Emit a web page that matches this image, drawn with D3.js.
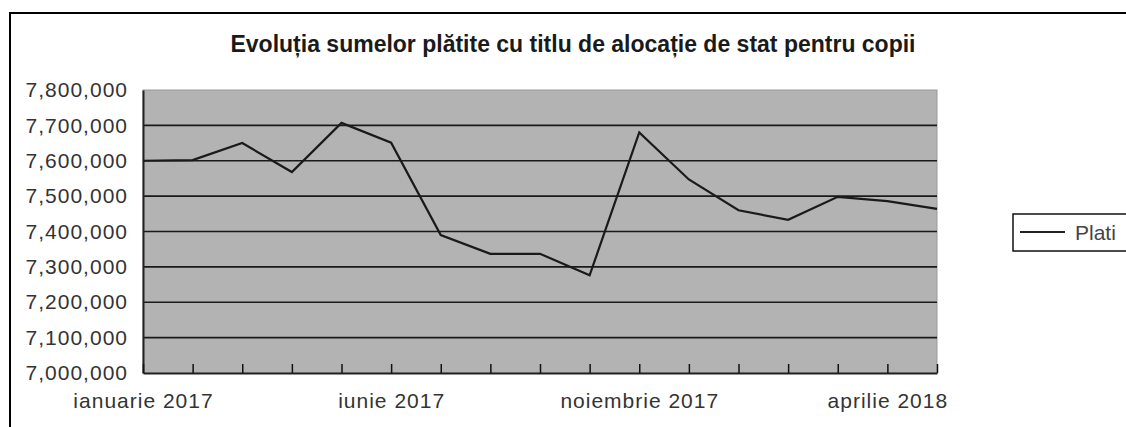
<!DOCTYPE html>
<html>
<head>
<meta charset="utf-8">
<script src="https://cdn.jsdelivr.net/npm/d3@7"></script>
<style>
  body { margin: 0; background: #fff; }
  svg { display: block; }
  text { font-family: "Liberation Sans", Arial, sans-serif; }
</style>
</head>
<body>
<div id="chart"></div>
<script>
var svgWidth = 1126;
var svgHeight = 427;

// data
var months = [
    "ianuarie 2017", "februarie 2017", "martie 2017", "aprilie 2017", "mai 2017",
    "iunie 2017", "iulie 2017", "august 2017", "septembrie 2017", "octombrie 2017",
    "noiembrie 2017", "decembrie 2017", "ianuarie 2018", "februarie 2018",
    "martie 2018", "aprilie 2018", "mai 2018"
];
var plati = [
    7600000, 7602000, 7650000, 7568000, 7707000,
    7651000, 7390000, 7337000, 7337000, 7276000,
    7680000, 7547000, 7460000, 7433000,
    7498000, 7486000, 7464000
];
var yTicks = [7000000, 7100000, 7200000, 7300000, 7400000, 7500000, 7600000, 7700000, 7800000];
var labelEvery = 5;
var title = "Evoluția sumelor plătite cu titlu de alocație de stat pentru copii";
var seriesName = "Plati";

var plot = { left: 143, right: 937, top: 90, bottom: 373 };

var svg = d3.select("#chart")
    .append("svg")
    .attr("width", svgWidth)
    .attr("height", svgHeight);

// outer frame (runs off the right and bottom edge)
svg.append("rect")
    .attr("x", 10)
    .attr("y", 13)
    .attr("width", svgWidth + 20)
    .attr("height", svgHeight + 20)
    .attr("fill", "#fff")
    .attr("stroke", "#000")
    .attr("stroke-width", 2);

svg.append("text")
    .attr("x", 573)
    .attr("y", 52)
    .attr("text-anchor", "middle")
    .attr("font-size", 23)
    .attr("font-weight", "bold")
    .attr("fill", "#1a1a1a")
    .text(title);

var x = d3.scalePoint()
    .domain(months)
    .range([plot.left, plot.right]);

var y = d3.scaleLinear()
    .domain([7000000, 7800000])
    .range([plot.bottom, plot.top]);

// plot background
svg.append("rect")
    .attr("x", plot.left)
    .attr("y", plot.top)
    .attr("width", plot.right - plot.left)
    .attr("height", plot.bottom - plot.top)
    .attr("fill", "#b3b3b3")
    .attr("stroke", "#999")
    .attr("stroke-width", 1);

// horizontal gridlines
svg.append("g")
    .selectAll("line")
    .data(yTicks.slice(1, -1))
    .enter()
    .append("line")
    .attr("x1", plot.left)
    .attr("x2", plot.right)
    .attr("y1", d => y(d))
    .attr("y2", d => y(d))
    .attr("stroke", "#1a1a1a")
    .attr("stroke-width", 1.6);

// y axis
var leftAxis = d3.axisLeft(y)
    .tickValues(yTicks)
    .tickFormat(d3.format(","))
    .tickSize(0)
    .tickPadding(15);

var yAxis = svg.append("g")
    .attr("transform", `translate(${plot.left}, 0)`)
    .call(leftAxis);
yAxis.select(".domain").attr("stroke", "#222").attr("stroke-width", 2);
yAxis.selectAll("text")
    .attr("font-size", 21)
    .attr("letter-spacing", 1)
    .attr("fill", "#333")
    .attr("font-family", "Liberation Sans, Arial, sans-serif");

// x axis, ticks point up into the plot
var bottomAxis = d3.axisBottom(x)
    .tickSizeInner(-9)
    .tickSizeOuter(0)
    .tickPadding(20)
    .tickFormat((d, i) => i % labelEvery === 0 ? d : "");

var xAxis = svg.append("g")
    .attr("transform", `translate(0, ${plot.bottom})`)
    .call(bottomAxis);
xAxis.select(".domain").attr("stroke", "#222").attr("stroke-width", 2);
xAxis.selectAll(".tick line").attr("stroke", "#111").attr("stroke-width", 1.5);
xAxis.selectAll("text")
    .attr("font-size", 21)
    .attr("letter-spacing", 1)
    .attr("fill", "#333")
    .attr("font-family", "Liberation Sans, Arial, sans-serif");

// series line
var line = d3.line()
    .x((d, i) => x(months[i]))
    .y(d => y(d));

svg.append("path")
    .datum(plati)
    .attr("d", line)
    .attr("fill", "none")
    .attr("stroke", "#1a1a1a")
    .attr("stroke-width", 2.2)
    .attr("stroke-linejoin", "miter");

// legend (cut off by the right edge like the original)
var legend = svg.append("g")
    .attr("transform", "translate(1013, 214)");
legend.append("rect")
    .attr("width", 140)
    .attr("height", 37)
    .attr("fill", "#fff")
    .attr("stroke", "#111")
    .attr("stroke-width", 1.5);
legend.append("line")
    .attr("x1", 7)
    .attr("x2", 52)
    .attr("y1", 18)
    .attr("y2", 18)
    .attr("stroke", "#222")
    .attr("stroke-width", 2.2);
legend.append("text")
    .attr("x", 62)
    .attr("y", 26)
    .attr("font-size", 21)
    .attr("fill", "#444")
    .text(seriesName);
</script>
</body>
</html>
